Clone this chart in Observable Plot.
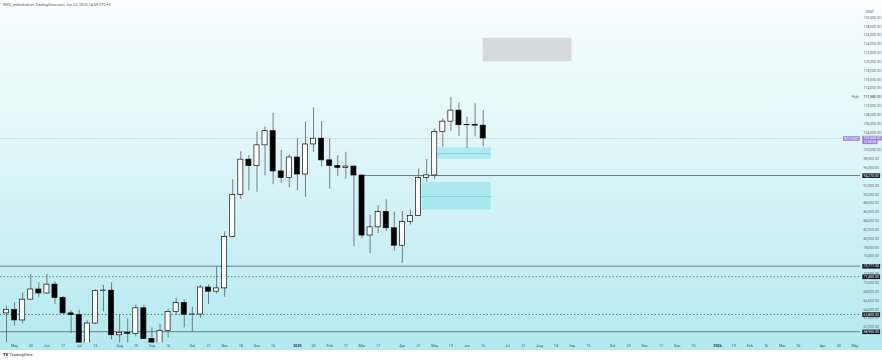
<!DOCTYPE html>
<html><head><meta charset="utf-8">
<script src="https://cdn.jsdelivr.net/npm/d3@7"></script>
<script src="https://cdn.jsdelivr.net/npm/@observablehq/plot@0.6"></script>
<style>
html,body{margin:0;padding:0;background:#fff;}
#wrap{position:relative;width:882px;height:360px;font-family:Roboto,"Liberation Sans",sans-serif;overflow:hidden;}
#chart{position:absolute;left:0;top:0;}
#hdr{position:absolute;left:3px;top:1.5px;font-size:3.8px;color:#555;white-space:nowrap;}
#ftr{position:absolute;left:3px;top:351.5px;font-size:4.2px;color:#333;white-space:nowrap;}
#ftr b{font-weight:900;letter-spacing:-0.2px;margin-right:1.5px;}
</style></head>
<body><div id="wrap"><div id="chart"></div>
<div id="hdr">WYO, published on TradingView.com, Jun 22, 2025 14:05 UTC+3</div>
<div id="ftr"><b>TV</b>TradingView</div></div>
<script>
// Weekly BTCUSDT candles
const weeks = ["2024-04-29","2024-05-06","2024-05-13","2024-05-20","2024-05-27","2024-06-03","2024-06-10","2024-06-17","2024-06-24","2024-07-01",
"2024-07-08","2024-07-15","2024-07-22","2024-07-29","2024-08-05","2024-08-12","2024-08-19","2024-08-26","2024-09-02","2024-09-09",
"2024-09-16","2024-09-23","2024-09-30","2024-10-07","2024-10-14","2024-10-21","2024-10-28","2024-11-04","2024-11-11","2024-11-18",
"2024-11-25","2024-12-02","2024-12-09","2024-12-16","2024-12-23","2024-12-30","2025-01-06","2025-01-13","2025-01-20","2025-01-27",
"2025-02-03","2025-02-10","2025-02-17","2025-02-24","2025-03-03","2025-03-10","2025-03-17","2025-03-24","2025-03-31","2025-04-07",
"2025-04-14","2025-04-21","2025-04-28","2025-05-05","2025-05-12","2025-05-19","2025-05-26","2025-06-02","2025-06-09","2025-06-16"];
const open  = [63100,63900,61500,66200,68500,67600,69600,66600,63100,62700, 55850,60800,68150,68250,58150,58700,58450,64250,57300,54850,
 59150,63400,65450,62800,62850,68950,68000,68750,80350,89850, 97850,96400,101100,104300,95200,93700,98350,94500,101300,102600,
 97700,96450,96000,96300,94270,80700,82550,86050,82350,78400, 83750,85150,93750,94300,104100,106450,108950,105650,105700,105550];
const high  = [64700,65500,67700,71900,70000,71900,70200,66900,63700,63800, 61400,68400,69400,70000,62750,61800,65000,64950,59800,60600,
 64100,66500,66200,64500,69400,69500,73600,81500,93300,99600, 98800,104100,105250,108350,99950,98950,102700,106400,109600,106500,
 102500,98800,99500,96500,94400,85300,87450,88750,86000,86100, 86450,95750,97900,104800,107100,111980,110700,107500,110500,108950];
const low   = [56500,60200,60700,66000,66600,67500,65100,62800,58500,53500, 54300,60600,63400,57100,49000,56100,57800,57200,52550,54600,
 57500,62700,59800,58900,62000,65100,67500,66800,80200,88900, 90800,90500,94200,92200,92500,91500,90800,89300,99500,96200,
 91200,94100,93400,78200,80000,76600,81150,81600,77200,74430, 83100,85100,92800,93400,100700,104300,103100,100400,103000,100800];
const close = [63900,61500,66200,68500,67600,69600,66600,63100,62700,55850, 60800,68150,68250,58150,58700,58450,64250,57300,54850,59150,
 63400,65450,62800,62850,68950,68000,68750,80350,89850,97850, 96400,101100,104300,95200,93700,98350,94500,101300,102600,97700,
 96450,96000,96300,94270,80700,82550,86050,82350,78400,83750, 85150,93750,94300,104100,106450,108950,105650,105700,105550,102650];

// Axis tick labels (x)
const tickDates = ["2024-05-06","2024-05-20","2024-06-03","2024-06-17","2024-07-01","2024-07-15","2024-08-05","2024-08-19","2024-09-02","2024-09-16",
"2024-10-07","2024-10-21","2024-11-04","2024-11-18","2024-12-02","2024-12-16","2025-01-06","2025-01-20","2025-02-03","2025-02-17",
"2025-03-03","2025-03-17","2025-04-07","2025-04-21","2025-05-05","2025-05-19","2025-06-02","2025-06-16","2025-07-07","2025-07-21",
"2025-08-04","2025-08-18","2025-09-01","2025-09-15","2025-10-06","2025-10-20","2025-11-03","2025-11-17","2025-12-01","2025-12-15",
"2026-01-05","2026-01-19","2026-02-02","2026-02-16","2026-03-02","2026-03-16","2026-04-06","2026-04-20","2026-05-04"];
const tickLabels = ["May","20","Jun","17","Jul","15","Aug","19","Sep","16","Oct","21","Nov","18","Dec","16","2025","20","Feb","17",
"Mar","17","Apr","21","May","19","Jun","16","Jul","21","Aug","18","Sep","15","Oct","20","Nov","17","Dec","15",
"2026","19","Feb","16","Mar","16","Apr","20","May"];
// Price ticks (y), hidden where a label covers them
const priceTicks = [60000,62000,64000,66000,68000,70000,72000,76000,78000,80000,82000,84000,86000,88000,90000,92000,96000,98000,100000,
 104000,106000,108000,110000,114000,116000,118000,120000,122000,124000,126000,128000,130000];

// Horizontal levels
const solidLevels = [73777, 58950];
const dottedLevels = [71400, 62850];
const levelLabels = [73777, 71400, 62850, 58950, 94270];
const rayLevel = {price: 94270, start: "2025-03-03"};
const allTimeHigh = 111980;
// Zones
const grayBox = {start: "2025-06-16", end: "2025-09-01", low: 120000, high: 125300};
const cyanBoxes = [
  {start: "2025-05-08", end: "2025-06-23", low: 97900, high: 100550, mid: 99200},
  {start: "2025-04-24", end: "2025-06-23", low: 86500, high: 92700, mid: 89500}
];
const lastPrice = 102650;
const countdown = "12:54:55";

const D = s => new Date(s + "T00:00:00Z");
const candles = weeks.map((w, i) => ({date: D(w), open: open[i], high: high[i], low: low[i], close: close[i]}));
const half = 2.2 * 864e5;
const xDomain = [new Date("2024-04-23T19:00:00Z"), new Date("2026-05-08T21:00:00Z")];
const yDomain = [56400, 132270];
const labelMap = new Map(tickDates.map((d, i) => [+D(d), tickLabels[i]]));
const tdates = tickDates.map(D);
const yearDates = tdates.filter(d => /^\d{4}$/.test(labelMap.get(+d)));
const otherDates = tdates.filter(d => !/^\d{4}$/.test(labelMap.get(+d)));
const fmt = d3.format(",.2f");
const lineColor = "#6e7e84";

const chart = Plot.plot({
  width: 882, height: 350,
  marginTop: 7, marginBottom: 7.5, marginLeft: 0, marginRight: 22,
  x: {type: "utc", domain: xDomain},
  y: {domain: yDomain},
  style: {background: "linear-gradient(to bottom, #ffffff 0px, #ffffff 7px, #f7fdfe 8px, #dff6f9 150px, #b3e9f0 350px)", fontFamily: "Roboto, 'Liberation Sans', sans-serif", overflow: "visible"},
  marks: [
    Plot.rect([grayBox], {x1: d => D(d.start), x2: d => D(d.end), y1: "low", y2: "high", fill: "#d3d6d9", fillOpacity: 0.9}),
    Plot.rect(cyanBoxes, {x1: d => D(d.start), x2: d => D(d.end), y1: "low", y2: "high", fill: "#00bcd4", fillOpacity: 0.2}),
    Plot.ruleY(cyanBoxes, {y: "mid", x1: d => D(d.start), x2: d => D(d.end), stroke: "#00acc1", strokeOpacity: 0.3}),
    Plot.ruleY(solidLevels, {stroke: lineColor, strokeWidth: 1}),
    Plot.ruleY(dottedLevels, {stroke: lineColor, strokeWidth: 1, strokeDasharray: "1.5,2"}),
    Plot.ruleY([rayLevel], {y: "price", x1: d => D(d.start), x2: () => xDomain[1], stroke: lineColor, strokeWidth: 1}),
    Plot.ruleY([lastPrice], {stroke: "#a59bc6", strokeOpacity: 0.55, strokeDasharray: "1,1.5"}),
    Plot.ruleX(candles, {x: "date", y1: "low", y2: "high", stroke: "#5b5f66", strokeWidth: 0.8, clip: true}),
    Plot.rect(candles, {x1: d => new Date(+d.date - half), x2: d => new Date(+d.date + half), y1: "open", y2: "close",
      fill: d => d.close >= d.open ? "#ffffff" : "#000000", stroke: "#111", strokeWidth: 0.7, clip: true}),
    Plot.axisX(otherDates, {tickSize: 0, tickPadding: 1.2, tickFormat: d => labelMap.get(+d), fontSize: 3.7, fill: "#555", line: true, stroke: "#8a9297"}),
    Plot.axisX(yearDates, {tickSize: 0, tickPadding: 1.2, tickFormat: d => labelMap.get(+d), fontSize: 3.7, fill: "#333", fontWeight: "bold"}),
    Plot.axisY(priceTicks, {anchor: "right", tickSize: 0, tickPadding: 3, tickFormat: fmt, fontSize: 3.5, fill: "#666", textAnchor: "start", line: true, stroke: "#8a9297", label: null}),
    Plot.text(["USDT"], {frameAnchor: "top-right", dx: 5, dy: 3, textAnchor: "start", fontSize: 3.5, fill: "#555", text: d => d}),
    Plot.text([allTimeHigh], {y: d => d, frameAnchor: "right", dx: -1.5, textAnchor: "end", text: () => "High", fontSize: 3.5, fill: "#777"}),
    Plot.text([allTimeHigh], {y: d => d, frameAnchor: "right", dx: 3, textAnchor: "start", text: fmt, fontSize: 3.5, fill: "#333"}),
    Plot.text(levelLabels, {y: d => d, frameAnchor: "right", dx: 3, textAnchor: "start", text: fmt, fontSize: 3.5, fill: "#fff", className: "lvl"}),
    Plot.text([lastPrice], {y: d => d, frameAnchor: "right", dx: -2, textAnchor: "end", text: () => "BTCUSDT", fontSize: 3.3, fill: "#fff", className: "purp"}),
    Plot.text([lastPrice], {y: d => d, frameAnchor: "right", dx: 3, dy: -0.5, textAnchor: "start", text: fmt, fontSize: 3.5, fill: "#fff", className: "purp"}),
    Plot.text([lastPrice], {y: d => d, frameAnchor: "right", dx: 3, dy: 3.3, textAnchor: "start", text: () => countdown, fontSize: 3.3, fill: "#fff", className: "purp"})
  ]
});
document.getElementById("chart").append(chart);

function backRects(cls, color, padX, padY) {
  d3.select(chart).selectAll("g." + cls + " text").each(function () {
    const b = this.getBBox();
    const r = document.createElementNS("http://www.w3.org/2000/svg", "rect");
    r.setAttribute("x", b.x - padX); r.setAttribute("y", b.y - padY);
    r.setAttribute("width", b.width + 2 * padX); r.setAttribute("height", b.height + 2 * padY);
    r.setAttribute("fill", color);
    const t = this.getAttribute("transform"); if (t) r.setAttribute("transform", t);
    this.parentNode.insertBefore(r, this);
  });
}
backRects("lvl", "#131722", 1.2, 0.3);
backRects("purp", "#9c7fd8", 1.2, 0.3);
</script></body></html>
